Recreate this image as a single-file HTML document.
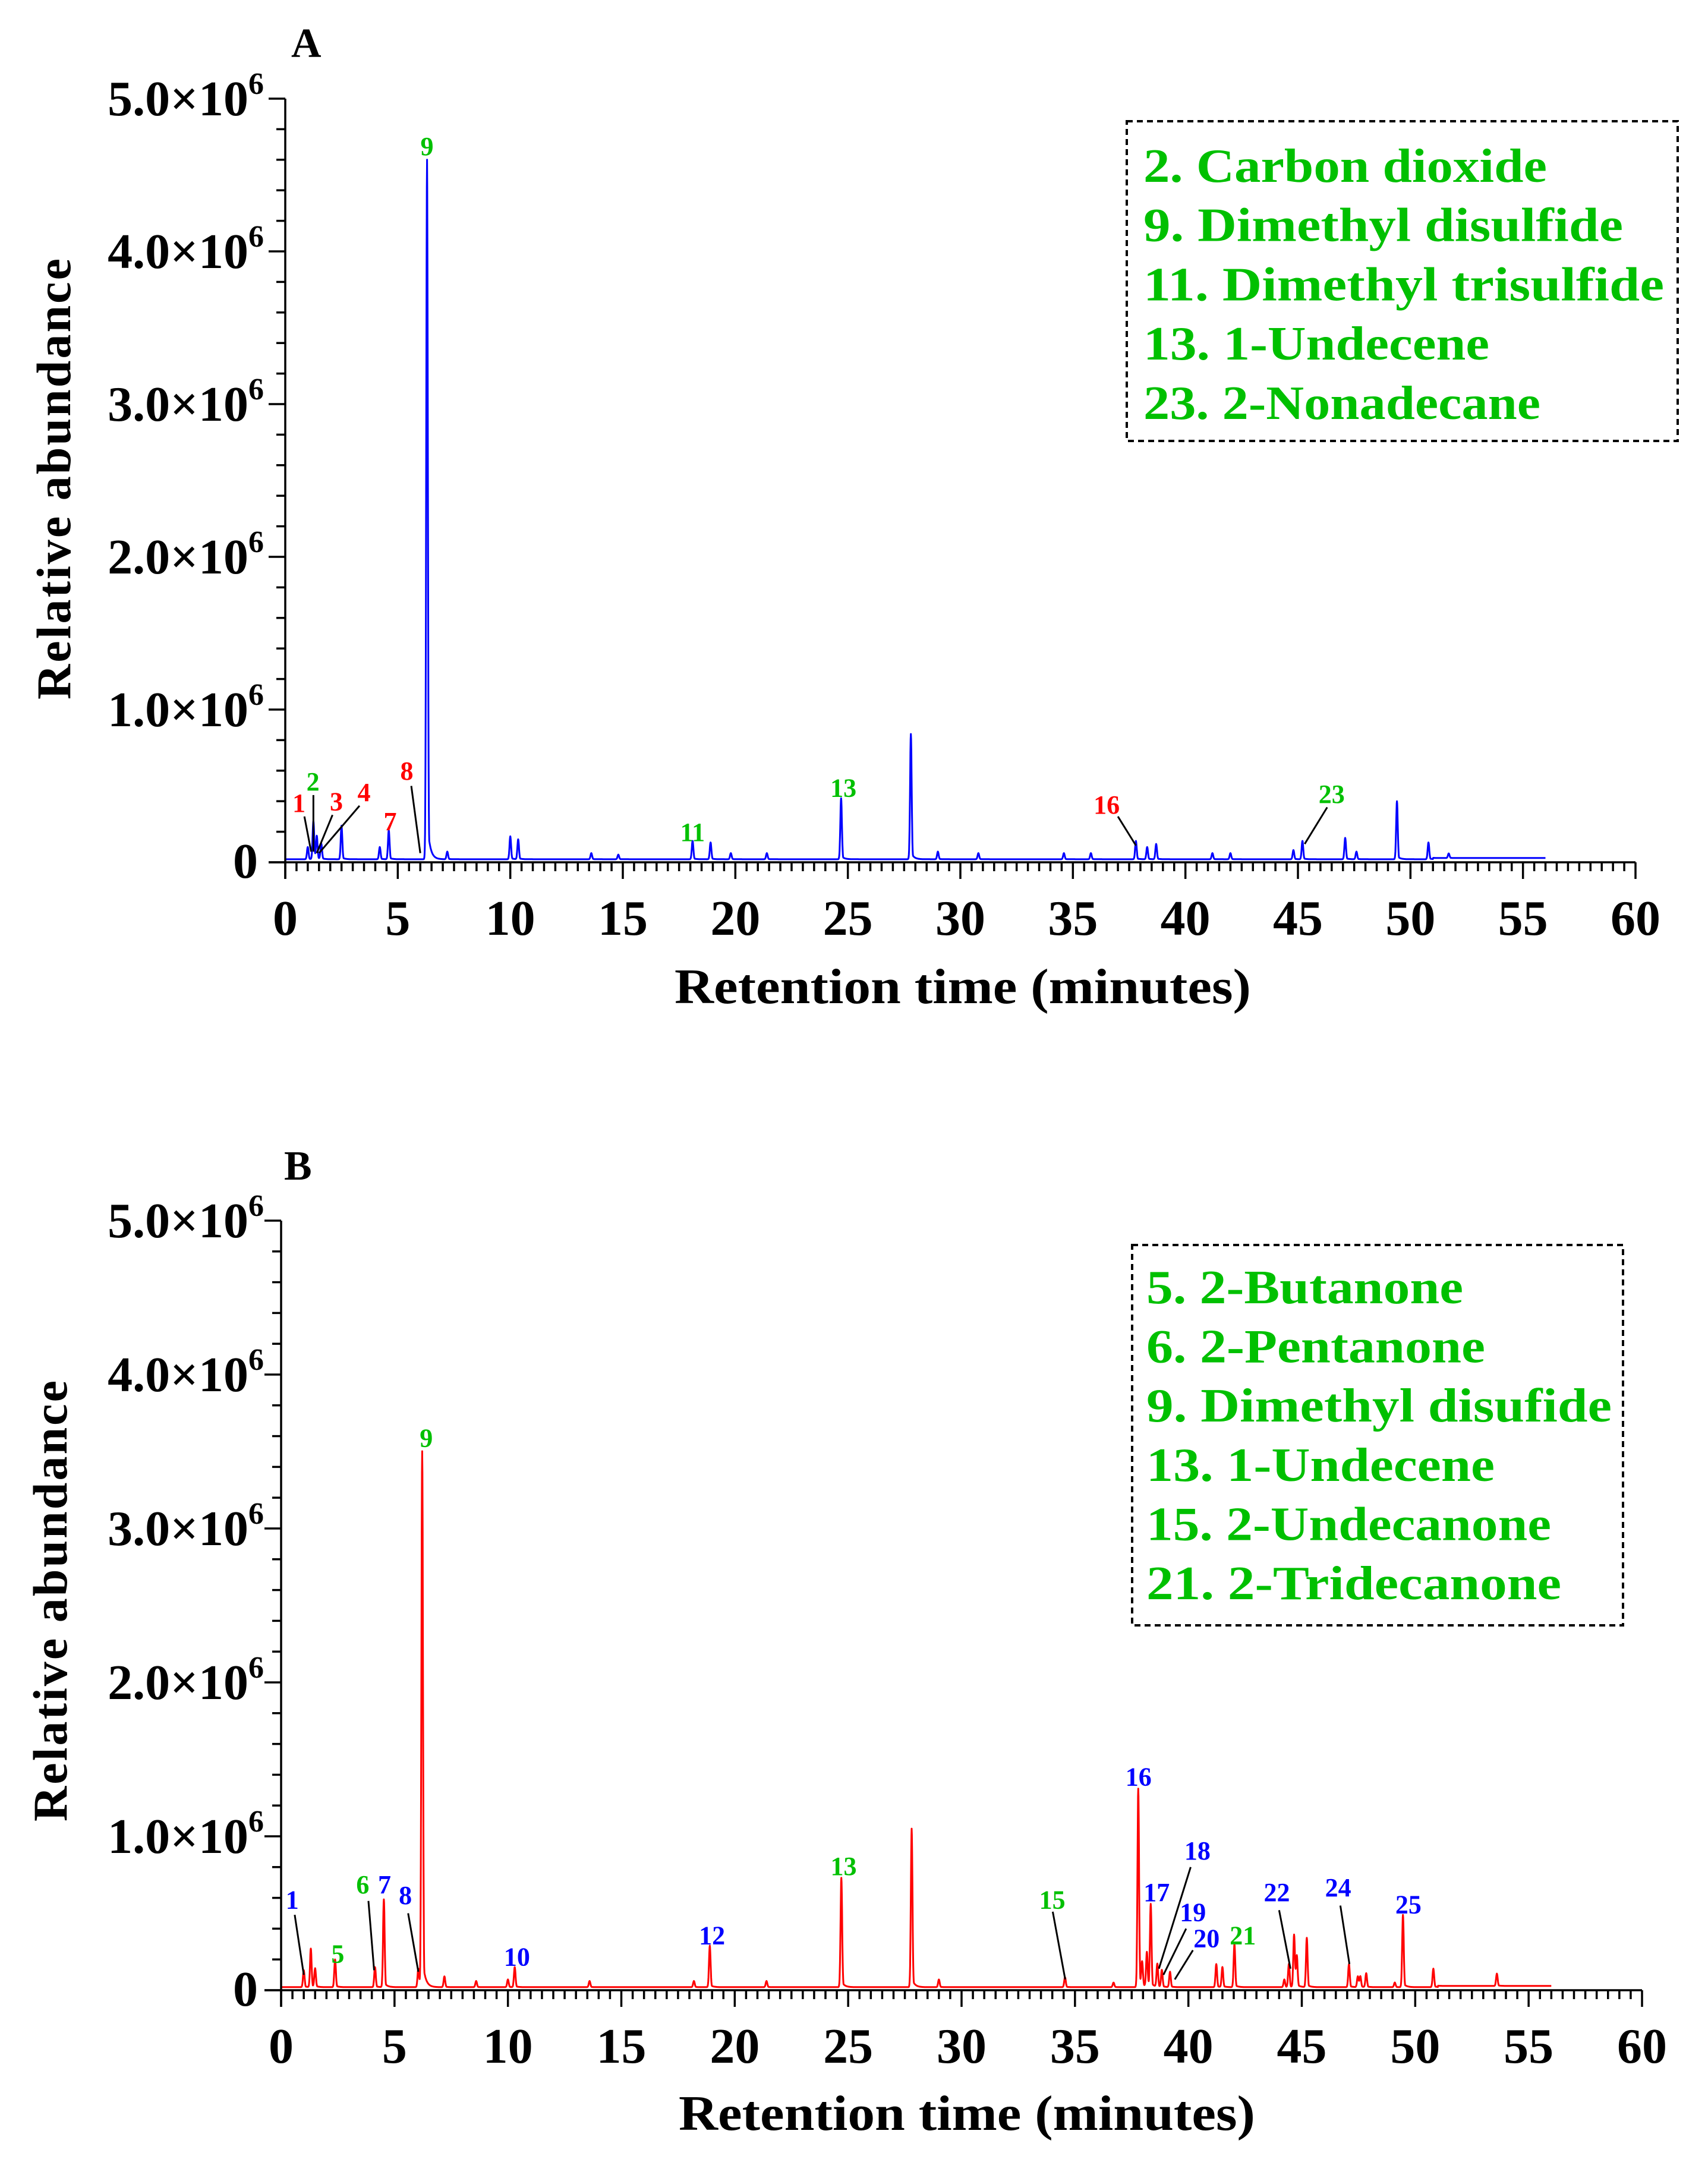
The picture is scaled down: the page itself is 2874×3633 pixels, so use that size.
<!DOCTYPE html>
<html><head><meta charset="utf-8"><style>
html,body{margin:0;padding:0;background:#fff;}
svg{display:block;}
text{font-family:"Liberation Serif",serif;font-weight:bold;}
</style></head>
<body>
<svg id="fig" width="2874" height="3633" viewBox="0 0 2874 3633" xmlns="http://www.w3.org/2000/svg"></svg>
<script>
// ===== Data: panel A (blue trace) =====
const peakTimesA = [1.0,1.25,1.4,1.6,2.5,4.2,4.6,6.3,7.2,10.0,10.35,13.6,14.8,18.1,18.9,19.8,21.4,24.7,27.8,29.0,30.8,34.6,35.8,37.8,38.3,38.7,41.2,42.0,44.8,45.2,47.1,47.6,49.4,50.8,51.7];
const peakHeightsA = [0.08,0.25,0.15,0.10,0.22,0.08,0.19,4.58,0.05,0.15,0.13,0.04,0.03,0.12,0.11,0.04,0.04,0.40,0.82,0.05,0.04,0.04,0.04,0.12,0.08,0.10,0.04,0.04,0.06,0.12,0.14,0.05,0.38,0.11,0.03];
const baselineA = 0.02;
const legendA = ["2. Carbon dioxide","9. Dimethyl disulfide","11. Dimethyl trisulfide","13. 1-Undecene","23. 2-Nonadecane"];
const labelTextA = ["1","2","3","4","7","8","9","11","13","16","23"];
const labelTimeA = [0.61,1.23,2.27,3.5,4.66,5.4,6.3,18.1,24.8,36.5,46.5];
const labelValA = [0.33,0.47,0.34,0.40,0.21,0.54,4.63,0.14,0.43,0.32,0.39];
const labelColorA = ["r","g","r","r","r","r","g","g","g","r","g"];
const leaderA = [[0.85,0.30,1.15,0.07],[1.25,0.44,1.25,0.07],[2.1,0.31,1.4,0.06],[3.3,0.37,1.5,0.06],[5.6,0.50,6.0,0.06],[37.0,0.30,37.8,0.11],[46.3,0.36,45.3,0.12]];

// ===== Data: panel B (red trace) =====
const peakTimesB = [1.0,1.31,1.5,2.38,4.14,4.53,6.05,6.22,7.2,8.6,10.0,10.3,13.6,18.2,18.9,21.4,24.7,27.8,29.0,34.56,36.7,37.79,37.96,38.17,38.34,38.63,38.83,39.19,41.23,41.5,42.03,44.23,44.43,44.66,44.78,45.22,47.08,47.47,47.58,47.84,49.1,49.46,50.8,53.6];
const peakHeightsB = [0.11,0.25,0.12,0.18,0.13,0.57,0.12,3.48,0.07,0.04,0.05,0.13,0.04,0.04,0.27,0.04,0.71,1.03,0.05,0.065,0.03,1.29,0.15,0.225,0.537,0.15,0.11,0.10,0.15,0.13,0.28,0.05,0.15,0.34,0.20,0.32,0.15,0.07,0.07,0.09,0.03,0.47,0.12,0.08];
const baselineB = 0.02;
const legendB = ["5. 2-Butanone","6. 2-Pentanone","9. Dimethyl disufide","13. 1-Undecene","15. 2-Undecanone","21. 2-Tridecanone"];
const labelTextB = ["1","5","6","7","8","9","10","12","13","15","16","17","18","19","20","21","22","24","25"];
const labelTimeB = [0.49,2.5,3.6,4.56,5.48,6.4,10.4,19.0,24.8,34.0,37.8,38.6,40.4,40.2,40.8,42.4,43.9,46.6,49.7];
const labelValB = [0.53,0.18,0.63,0.63,0.56,3.53,0.16,0.30,0.75,0.53,1.33,0.58,0.85,0.45,0.28,0.30,0.58,0.61,0.50];
const labelColorB = ["b","g","g","b","b","g","b","b","g","g","b","b","b","b","b","g","b","b","b"];
const leaderB = [[0.6,0.49,1.0,0.10],[3.85,0.58,4.1,0.13],[5.6,0.50,6.05,0.12],[34.02,0.51,34.57,0.07],[40.1,0.80,38.7,0.14],[39.9,0.40,38.9,0.10],[40.2,0.26,39.4,0.07],[44.0,0.52,44.5,0.14],[46.7,0.55,47.1,0.17]];

const xTickLabels = ["0","5","10","15","20","25","30","35","40","45","50","55","60"];
const yTickLabels = ["0","1.0","2.0","3.0","4.0","5.0"];

const NS = "http://www.w3.org/2000/svg";
const svg = document.getElementById("fig");
const COLORS = {r:"#ff0000", g:"#00c000", b:"#0000ff"};
function mk(tag, attrs, parent){
  const e = document.createElementNS(NS, tag);
  for (const k in attrs) e.setAttribute(k, attrs[k]);
  (parent||svg).appendChild(e);
  return e;
}

function panel(cfg){
  const g = mk("g", {});
  
  
  const X = t => cfg.x0 + (t/60)*(cfg.x1-cfg.x0);
  const Y = v => cfg.y0 - (v/5)*(cfg.y0-cfg.yTop);

  // panel letter
  const pl = mk("text", {x:cfg.letterX, y:cfg.letterY, "font-size":70, fill:"#000"}, g);
  pl.textContent = cfg.letter;
  
  

  // trace
  let d = "";
  const tail = cfg.tail;
  for (let t=0; t<=56.0001; t+=0.01){
    let v = cfg.base + (t>51?0.008:0);
    for (let i=0;i<cfg.times.length;i++){
      const dt = t - cfg.times[i];
      if (dt < -0.5 || dt > 1.5) continue;
      const s = 0.035;
      let f = Math.exp(-dt*dt/(2*s*s));
      if (dt > 0) f = Math.max(f, 0.06*Math.exp(-dt/0.12));
      v += cfg.heights[i]*f;
    }
    d += (d?"L":"M") + X(t).toFixed(1) + "," + Y(v).toFixed(1);
  }
  const tr = mk("path", {d:d, fill:"none", stroke:cfg.color, "stroke-width":3, "stroke-linejoin":"round"}, g);
  
  

  // axes
  const ax = mk("g", {stroke:"#000", "stroke-width":3.5, fill:"none"}, g);
  
  
  mk("line", {x1:cfg.x0, y1:cfg.yTop, x2:cfg.x0, y2:cfg.y0+28}, ax);
  mk("line", {x1:cfg.x0-28, y1:cfg.y0, x2:cfg.x1, y2:cfg.y0}, ax);
  for (let k=0;k<=120;k++){
    const major = k%10===0;
    const xx = X(k*0.5);
    mk("line", {x1:xx, y1:cfg.y0, x2:xx, y2:cfg.y0+(major?28:15)}, ax);
  }
  for (let k=0;k<=25;k++){
    const major = k%5===0;
    const yy = Y(k*0.2);
    mk("line", {x1:cfg.x0, y1:yy, x2:cfg.x0-(major?28:15), y2:yy}, ax);
  }
  // x tick labels
  xTickLabels.forEach((lab,i)=>{
    const t = mk("text", {x:X(i*5), y:cfg.y0+122, "font-size":84, "text-anchor":"middle", fill:"#000"}, g);
    t.textContent = lab;
    
    
  });
  // y tick labels
  yTickLabels.forEach((lab,i)=>{
    const t = mk("text", {x:i===0?434:444, y:Y(i)+(i===0?26:28), "font-size":84, "text-anchor":"end", fill:"#000"}, g);
    
    
    if (i===0){ t.textContent = lab; }
    else {
      const a = mk("tspan", {}, t); a.textContent = lab + "\u00d710";
      const b = mk("tspan", {dy:-36, "font-size":52}, t); b.textContent = "6";
    }
  });
  // axis titles
  const yt = mk("text", {x:0, y:0, "font-size":82, "text-anchor":"middle", fill:"#000", textLength:742, lengthAdjust:"spacing",
    transform:"translate("+cfg.yTitleX+","+cfg.yTitleY+") rotate(-90)"}, g);
  yt.textContent = "Relative abundance";
  
  
  const xt = mk("text", {x:cfg.xTitleX, y:cfg.xTitleY, "font-size":84, "text-anchor":"middle", fill:"#000", textLength:970, lengthAdjust:"spacingAndGlyphs"}, g);
  xt.textContent = "Retention time (minutes)";
  
  

  // leader lines
  cfg.leaders.forEach(l=>{
    const ln = mk("line", {x1:X(l[0]), y1:Y(l[1]), x2:X(l[2]), y2:Y(l[3]), stroke:"#000", "stroke-width":3}, g);
    
    
  });
  // peak labels
  cfg.labText.forEach((lab,i)=>{
    const t = mk("text", {x:X(cfg.labTime[i]), y:Y(cfg.labVal[i]), "font-size":44, "text-anchor":"middle", fill:COLORS[cfg.labColor[i]]}, g);
    t.textContent = lab;
    
    
  });

  // legend
  const lg = mk("g", {}, g);
  
  
  const bx = cfg.legBox;
  mk("rect", {x:bx[0], y:bx[1], width:bx[2]-bx[0], height:bx[3]-bx[1], fill:"none", stroke:"#000", "stroke-width":4, "stroke-dasharray":"10 7"}, lg);
  cfg.legend.forEach((s,i)=>{
    const t = mk("text", {x:cfg.legX, y:cfg.legY0 + i*cfg.legDy, "font-size":80, fill:"#00c000", textLength:cfg.legW[i], lengthAdjust:"spacingAndGlyphs"}, lg);
    t.textContent = s;
    
    
  });
}

panel({name:"panel-a", letter:"A", letterX:490, letterY:96, x0:480, x1:2752, y0:1451, yTop:166,
  times:peakTimesA, heights:peakHeightsA, base:baselineA, color:"#0000ff",
  yTitleX:118, yTitleY:806, xTitleX:1620, xTitleY:1688,
  leaders:leaderA, labText:labelTextA, labTime:labelTimeA, labVal:labelValA, labColor:labelColorA,
  legBox:[1896,204,2823,742], legend:legendA, legX:1924, legY0:306, legDy:99.7, legW:[679,807,876,582,668]});

panel({name:"panel-b", letter:"B", letterX:478, letterY:1985, x0:473, x1:2763, y0:3349, yTop:2054,
  times:peakTimesB, heights:peakHeightsB, base:baselineB, color:"#ff0000",
  yTitleX:112, yTitleY:2694, xTitleX:1627, xTitleY:3584,
  leaders:leaderB, labText:labelTextB, labTime:labelTimeB, labVal:labelValB, labColor:labelColorB,
  legBox:[1905,2095,2731,2735], legend:legendB, legX:1929, legY0:2193, legDy:99.6, legW:[533,570,783,586,681,698]});
</script>
</body></html>
